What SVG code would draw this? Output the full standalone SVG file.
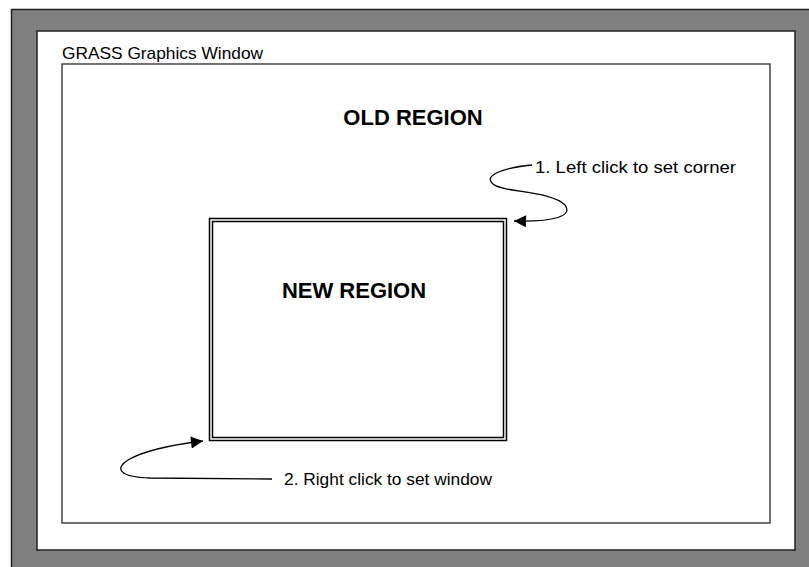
<svg xmlns="http://www.w3.org/2000/svg" width="809" height="567" viewBox="0 0 809 567">
<defs>
<style>
text{font-family:"Liberation Sans",Arial,sans-serif;fill:#000}
.lbl{font-size:17px}
.big{font-size:22px;font-weight:bold}
.conn{fill:none;stroke:#000;stroke-width:1.3}
</style>
<marker id="ah" viewBox="0 0 10 10" refX="10" refY="5" markerWidth="18" markerHeight="12" markerUnits="userSpaceOnUse" orient="auto">
<path d="M0,0 L10,5 L0,10 z" fill="#000"/>
</marker>
</defs>
<rect width="809" height="567" fill="#fff"/>
<g id="frame">
<rect x="11.5" y="9.5" width="810" height="570" fill="#808080" stroke="#222" stroke-width="1.5"/>
<rect x="37" y="31" width="758" height="519" fill="#fff" stroke="#222" stroke-width="1.5"/>
</g>
<g id="graphics-window">
<rect x="62" y="64" width="708" height="459" fill="#fff" stroke="#444" stroke-width="1.5"/>
<text class="lbl" x="62" y="59" textLength="201" lengthAdjust="spacingAndGlyphs">GRASS Graphics Window</text>
</g>
<g id="old-region">
<text class="big" x="413" y="125" text-anchor="middle">OLD REGION</text>
</g>
<g id="new-region">
<rect x="209.5" y="218.5" width="297" height="222" fill="none" stroke="#000" stroke-width="1.5"/>
<rect x="212.5" y="221.5" width="291" height="216" fill="none" stroke="#000" stroke-width="1.5"/>
<text class="big" x="354" y="298" text-anchor="middle">NEW REGION</text>
</g>
<g id="connectors">
<path class="conn" d="M532,165 C500,168 485,176 492,183 C500,193 550,190 565,205 C573,216 555,222 514,221" marker-end="url(#ah)"/>
<path class="conn" d="M272,479 L150,478 C118,477 115,468 128,460 C145,450 170,445 203,441" marker-end="url(#ah)"/>
</g>
<g id="labels">
<text class="lbl" x="535" y="173" textLength="201" lengthAdjust="spacingAndGlyphs">1. Left click to set corner</text>
<text class="lbl" x="284" y="485" textLength="208" lengthAdjust="spacingAndGlyphs">2. Right click to set window</text>
</g>
</svg>
